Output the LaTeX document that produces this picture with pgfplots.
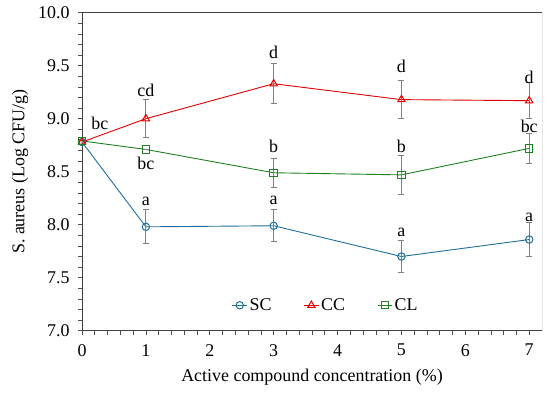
\documentclass[border=0pt]{standalone}
\usepackage{fontspec}
\setmainfont{Liberation Serif}
\usepackage{pgfplots}
\pgfplotsset{compat=1.18}
\definecolor{scblue}{RGB}{32,110,155}
\definecolor{ccred}{RGB}{224,0,0}
\definecolor{clgreen}{RGB}{32,128,32}
\newcommand{\cf}{\fontsize{18}{20}\selectfont}
\begin{document}
\begin{tikzpicture}
\begin{axis}[
  scale only axis,
  width=460bp, height=318bp,
  xmin=0, xmax=7.2, ymin=7, ymax=10,
  xtick={0,1,...,7}, ytick={7,7.5,...,10},
  minor x tick num=4, minor y tick num=4,
  tick align=outside,
  axis x line*=bottom, axis y line*=left,
  major tick length=4bp, minor tick length=4bp,
  every tick/.style={black!70, line width=0.6pt},
  axis line style={black!75, line width=0.8pt},
  /pgf/number format/assume math mode=true,
  /pgf/number format/.cd, fixed, fixed zerofill, precision=1, /pgfplots/.cd,
  xticklabel={\pgfmathprintnumber[precision=0]{\tick}},
  tick label style={font=\cf},
  xticklabel style={yshift=-6bp},
  yticklabel style={xshift=-5bp},
  label style={font=\cf},
  xlabel={Active compound concentration (\%)},
  ylabel={S. aureus (Log CFU/g)},
  xlabel style={yshift=-6bp},
  ylabel style={yshift=3bp},
  legend columns=3,
  legend style={draw=none, fill=none, at={(0.53,0.08)}, anchor=center,
    font=\cf, /tikz/every even column/.append style={column sep=30bp}},
  legend image code/.code={\draw[mark repeat=2,mark phase=2] plot coordinates {(0cm,0cm)(0.26cm,0cm)(0.52cm,0cm)};},
  error bars/y dir=both, error bars/y explicit,
  error bars/error bar style={gray, line width=0.8pt},
  error bars/error mark options={gray, rotate=90, mark size=3bp, line width=0.8pt},
]
\addplot[scblue, line width=0.9pt, mark=o, mark size=3.7bp, mark options={fill=white, solid, line width=1pt}]
  table[x=x, y=y, y error=e] {
  x y e
  0 8.78 0
  1 7.98 0.16
  3 7.99 0.15
  5 7.70 0.15
  7 7.86 0.16
};
\addlegendentry{SC}
\addplot[ccred, line width=0.9pt, mark=triangle, mark size=4.2bp, mark options={fill=white, solid, line width=1pt}]
  table[x=x, y=y, y error=e] {
  x y e
  0 8.78 0
  1 9.00 0.18
  3 9.33 0.19
  5 9.18 0.18
  7 9.17 0.17
};
\addlegendentry{CC}
\addplot[clgreen, line width=0.9pt, mark=square, mark size=3.7bp, mark options={fill=white, solid, line width=1pt}]
  table[x=x, y=y, y error=e] {
  x y e
  0 8.79 0
  1 8.71 0
  3 8.49 0.14
  5 8.47 0.18
  7 8.72 0.14
};
\addlegendentry{CL}
\begin{scope}[every node/.style={font=\cf, inner sep=0pt}]
\node at (axis cs:0.28,8.96) {bc};
\node at (axis cs:1,9.27) {cd};
\node at (axis cs:1,8.58) {bc};
\node at (axis cs:1,8.22) {a};
\node at (axis cs:3,9.63) {d};
\node at (axis cs:3,8.74) {b};
\node at (axis cs:3,8.23) {a};
\node at (axis cs:5,9.49) {d};
\node at (axis cs:5,8.74) {b};
\node at (axis cs:5,7.93) {a};
\node at (axis cs:7,9.39) {d};
\node at (axis cs:7,8.93) {bc};
\node at (axis cs:7,8.07) {a};
\end{scope}
\draw[black!75, line width=0.8pt] (rel axis cs:0,1) -- (rel axis cs:1,1) -- (rel axis cs:1,0);
\end{axis}
\pgfresetboundingbox
\path[use as bounding box] ([shift={(-82bp,-65bp)}]current axis.south west) rectangle ([shift={(8bp,12.7bp)}]current axis.north east);
\end{tikzpicture}
\end{document}
